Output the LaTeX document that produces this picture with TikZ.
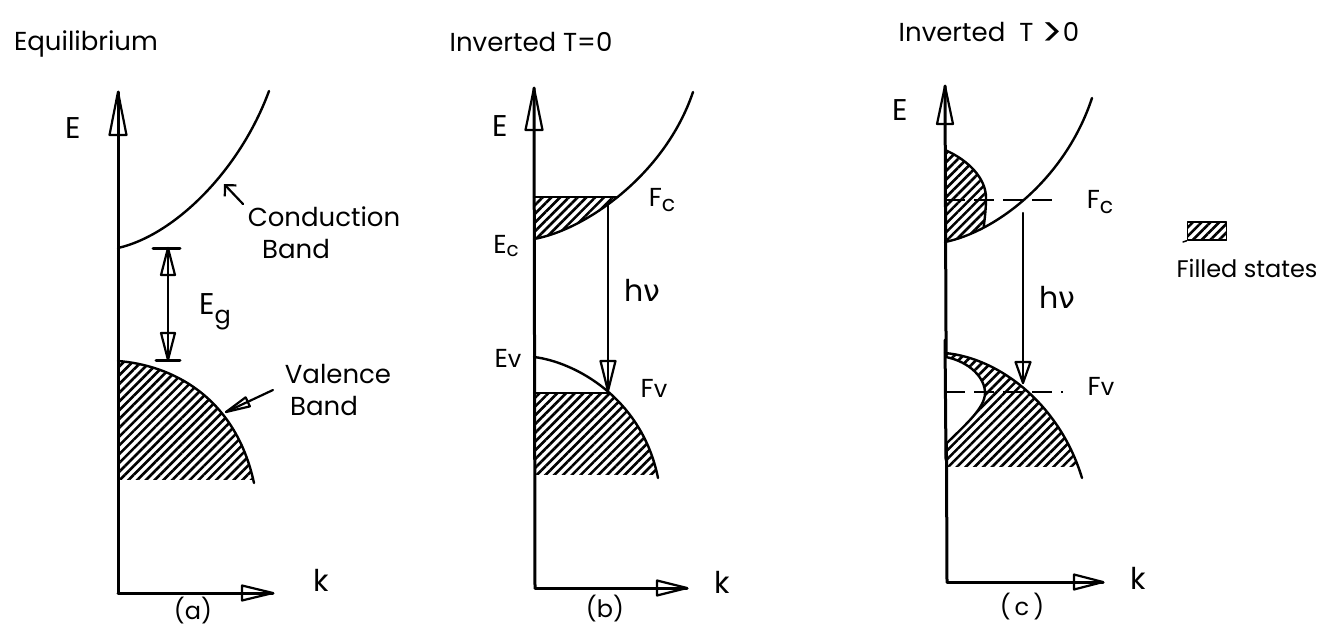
\documentclass[tikz,border=0pt]{standalone}
\usepackage{fontspec}
\setmainfont{Poppins}
\newfontfamily\gk{DejaVu Sans}
\usetikzlibrary{arrows.meta,patterns.meta}
\begin{document}
\begin{tikzpicture}[x=1pt,y=-1pt,line cap=round,line join=round,
  axis/.style={line width=3pt},
  band/.style={line width=2.4pt},
  thinln/.style={line width=2.2pt},
  hatch/.style={pattern={Lines[angle=45,distance=6.2pt,line width=2.6pt]},pattern color=black},
  dashln/.style={line width=2.2pt,dash pattern=on 20pt off 9pt,line cap=butt},
  lab/.style={font=\fontsize{26}{30}\selectfont,inner sep=0pt},
  big/.style={font=\fontsize{30}{34}\selectfont,inner sep=0pt},
  sml/.style={font=\fontsize{24}{28}\selectfont,inner sep=0pt},
  pics/ohead/.style args={#1/#2}{code={\draw[line width=2.2pt,line join=round] (0pt,0pt) -- (-#1pt,#2pt) -- (-#1pt,-#2pt) -- cycle;}}
]
\useasboundingbox (0,0) rectangle (1325,626);
\fill[white] (0,0) rectangle (1325,626);

% ---------- titles
\node[lab] (t1) at (86,44) {Equilibrium};
\node[lab] (t2) at (531,42) {Inverted T=0};
\node[lab] (t3) at (989,34) {Inverted\hspace{14pt}T\hspace{8pt}\raisebox{-5pt}{\fontsize{40}{40}\selectfont >}0};

% ================= panel (a)
\coordinate (aO) at (118,593);
\coordinate (aE) at (118,92);
\coordinate (aK) at (273,593);
\draw[axis] (aO) -- (aE);
\draw[axis] (aO) -- (aK);
\pic[rotate=90] at (aE) {ohead=43/8.5};
\pic at (aK) {ohead=31/7.5};
\node[big] (aElab) at (73,128) {E};
\node[big] (aklab) at (321,580) {k};
\node[sml] (alab) at (193,611) {(a)};

\coordinate (aEc) at (118,248);
\coordinate (aCtop) at (269,91);
\draw[band] (aEc) .. controls (175,235) and (240,170) .. (aCtop);

\coordinate (aEv) at (118,361);
\coordinate (aVend) at (254,483);
\begin{scope}
  \clip (aEv) .. controls (170,365) and (235,395) .. (aVend) -- (118,483) -- cycle;
  \fill[hatch] (118,355) rectangle (262,479);
\end{scope}
\draw[band] (aEv) .. controls (170,365) and (235,395) .. (aVend);

% Eg
\coordinate (gT) at (168,248);
\coordinate (gB) at (168,360);
\draw[thinln] (gT) -- (gB);
\draw[axis] (153,248) -- (180,248);
\draw[axis] (156,360) -- (180,360);
\pic[rotate=90] at (gT) {ohead=27/7};
\pic[rotate=-90] at (gB) {ohead=27/7};
\node[big] (eg) at (215,312) {E\raisebox{-0.3em}{\fontsize{24}{24}\selectfont g}};

% annotations
\node[lab] (cond) at (324,217) {Conduction};
\node[lab] (condb) at (296,249) {Band};
\coordinate (aCpt) at (224,184);
\coordinate (aCtail) at (243,204);
\draw[thinln,-{Straight Barb[length=8pt,width=16pt]}] (aCtail) -- (aCpt);
\node[lab] (val) at (338,374) {Valence};
\node[lab] (valb) at (324,406) {Band};
\coordinate (aVpt) at (226,412);
\coordinate (aVtail) at (273,390);
\draw[thinln] (aVtail) -- (aVpt);
\pic[rotate=205] at (aVpt) {ohead=24/5};

% ================= panel (b)
\coordinate (bO) at (535,588);
\coordinate (bE) at (534,88);
\coordinate (bK) at (687,588);
\draw[axis] (bO) -- (bE);
\draw[axis] (bO) -- (bK);
\pic[rotate=90] at (bE) {ohead=42/8.5};
\pic at (bK) {ohead=30/7.5};
\node[big] (bElab) at (500,126) {E};
\node[big] (bklab) at (722,582) {k};
\node[sml] (blab) at (605,609) {(b)};

\coordinate (bEc) at (534,239);
\coordinate (bCtop) at (693,92);
\coordinate (bFc) at (618,197);
\begin{scope}
  \clip (bEc) .. controls (585,230) and (665,175) .. (bCtop) -- (534,92) -- cycle;
  \fill[hatch] (534,197) rectangle (700,240);
\end{scope}
\draw[band] (bEc) .. controls (585,230) and (665,175) .. (bCtop);
\draw[band] (534,197) -- (bFc);

\coordinate (bEv) at (534,357);
\coordinate (bVend) at (658,478);
\coordinate (bFv) at (609,393);
\begin{scope}
  \clip (bEv) .. controls (575,362) and (642,398) .. (bVend) -- (534,478) -- cycle;
  \fill[hatch] (534,393) rectangle (665,474);
\end{scope}
\draw[band] (bEv) .. controls (575,362) and (642,398) .. (bVend);
\draw[band] (534,393) -- (bFv);

\coordinate (bHs) at (608,203);
\coordinate (bHe) at (608,391);
\draw[thinln] (bHs) -- (bHe);
\pic[rotate=-90] at (bHe) {ohead=30/7.5};

\node[lab] (bEclab) at (506,246) {E\raisebox{-0.1em}{\fontsize{20}{20}\selectfont c}};
\node[lab] (bEvlab) at (508,358) {E\fontsize{24}{24}\selectfont v};
\node[lab] (bFclab) at (662,200) {F\raisebox{-0.2em}{\fontsize{22}{22}\selectfont c}};
\node[lab] (bFvlab) at (654,388) {F\fontsize{24}{24}\selectfont v};
\node[big] (bhv) at (642,290) {h{\gk ν}};

% ================= panel (c)
\coordinate (cO) at (947,582);
\coordinate (cE) at (945,86);
\coordinate (cK) at (1103,582);
\draw[axis] (cO) -- (cE);
\draw[axis] (cO) -- (cK);
\pic[rotate=90] at (cE) {ohead=38/8};
\pic at (cK) {ohead=29/7.5};
\node[big] (cElab) at (900,110) {E};
\node[big] (cklab) at (1138,578) {k};
\node[sml] (clab) at (1022,607) {(\,c\,)};

\coordinate (cEc) at (945,242);
\coordinate (cCtop) at (1092,98);
% filled electrons bulge
\begin{scope}
  \clip (cEc) .. controls (995,232) and (1065,180) .. (cCtop) -- (945,90) -- cycle;
  \begin{scope}
    \clip (945,150) .. controls (968,160) and (986,178) .. (986,198) .. controls (986,212) and (984,224) .. (982,240) -- (945,250) -- cycle;
    \fill[hatch] (945,145) rectangle (995,245);
  \end{scope}
  \draw[band] (945,150) .. controls (968,160) and (986,178) .. (986,198) .. controls (986,212) and (984,224) .. (982,240);
\end{scope}
\draw[band] (cEc) .. controls (995,232) and (1065,180) .. (cCtop);

\coordinate (cFcs) at (945,200);
\coordinate (cFce) at (1060,200);
\draw[dashln] (cFcs) -- (cFce);
\node[lab] (cFclab) at (1100,202) {F\raisebox{-0.2em}{\fontsize{22}{22}\selectfont c}};

\coordinate (cHs) at (1023,213);
\coordinate (cHe) at (1023,383);
\draw[thinln] (cHs) -- (cHe);
\pic[rotate=-90] at (cHe) {ohead=21/7.5};
\node[big] (chv) at (1057,297) {h{\gk ν}};

\coordinate (cEv) at (945,353);
\coordinate (cVend) at (1082,478);
\begin{scope}
  \clip (cEv) .. controls (1000,358) and (1060,405) .. (cVend) -- (945,478) -- cycle;
  \fill[hatch] (945,350) rectangle (1090,466);
\end{scope}
\fill[white] (946,357) .. controls (970,362) and (985,378) .. (985,393) .. controls (985,408) and (965,425) .. (947,443) -- cycle;
\draw[band] (946,357) .. controls (970,362) and (985,378) .. (985,393) .. controls (985,408) and (965,425) .. (947,443);
\draw[band] (cEv) .. controls (1000,358) and (1060,405) .. (cVend);
\draw[axis] (945,340) -- (946,460);

\coordinate (cFvs) at (945,392);
\coordinate (cFve) at (1063,392);
\draw[dashln] (cFvs) -- (cFve);
\node[lab] (cFvlab) at (1101,386) {F\fontsize{24}{24}\selectfont v};

% ================= legend
\node[draw,hatch,line width=1.5pt,minimum width=39pt,minimum height=18pt,inner sep=0pt] (leg) at (1207,231) {};
\coordinate (legt) at (1183,242);
\draw[line width=1.5pt] (legt) -- (leg.south west);
\node[font=\fontsize{24}{28}\selectfont,inner sep=0pt] (legtxt) at (1247,268) {Filled states};
\end{tikzpicture}
\end{document}
